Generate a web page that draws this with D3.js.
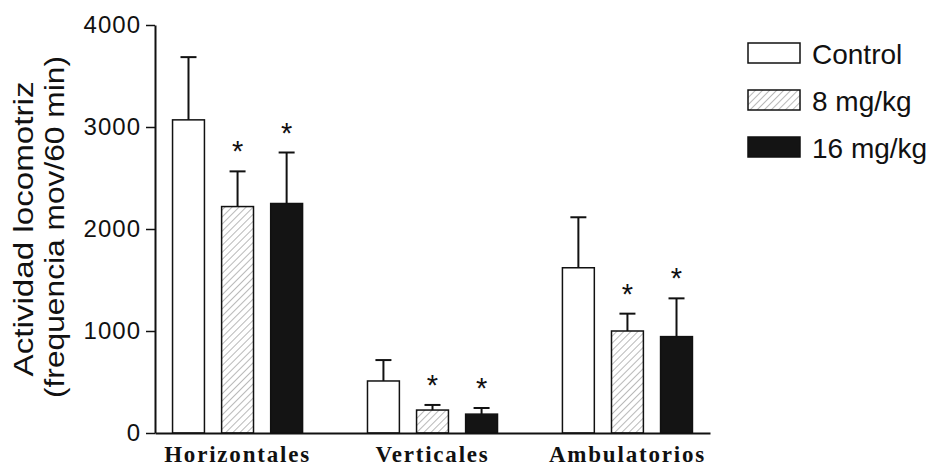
<!DOCTYPE html>
<html>
<head>
<meta charset="utf-8">
<script src="https://cdn.jsdelivr.net/npm/d3@7"></script>
<style>
  body { margin: 0; background: #fff; }
  svg { display: block; }
</style>
</head>
<body>
<div id="chart"></div>
<script>
// ---------------- data ----------------
var groups = ['Horizontales', 'Verticales', 'Ambulatorios'];
var doses = ['Control', '8 mg/kg', '16 mg/kg'];
var controlMean = [3070, 510, 1620];
var controlErr  = [615, 205, 495];
var dose8Mean   = [2220, 225, 1000];
var dose8Err    = [345, 50, 170];
var dose16Mean  = [2250, 185, 945];
var dose16Err   = [500, 60, 375];
var dose8Sig    = [true, true, true];
var dose16Sig   = [true, true, true];
var controlSig  = [false, false, false];
var yTicks = [0, 1000, 2000, 3000, 4000];

var width = 937, height = 466;
var margin = {left: 155, right: 227, top: 25, bottom: 33};

// rows built from the arrays
var rows = [];
groups.forEach(function(g, i) {
    rows.push({group: g, dose: doses[0], mean: controlMean[i], err: controlErr[i], sig: controlSig[i]});
    rows.push({group: g, dose: doses[1], mean: dose8Mean[i], err: dose8Err[i], sig: dose8Sig[i]});
    rows.push({group: g, dose: doses[2], mean: dose16Mean[i], err: dose16Err[i], sig: dose16Sig[i]});
});

var svg = d3.select('#chart').append('svg')
    .attr('width', width).attr('height', height);

// hatch pattern for 8 mg/kg
var defs = svg.append('defs');
var pat = defs.append('pattern')
    .attr('id', 'hatch')
    .attr('patternUnits', 'userSpaceOnUse')
    .attr('width', 5).attr('height', 5)
    .attr('patternTransform', 'rotate(45)');
pat.append('rect').attr('width', 5).attr('height', 5).attr('fill', '#fff');
pat.append('line')
    .attr('x1', 0).attr('y1', 0).attr('x2', 0).attr('y2', 5)
    .attr('stroke', '#8a8a8a').attr('stroke-width', 1.2);

var fills = {'Control': '#fff', '8 mg/kg': 'url(#hatch)', '16 mg/kg': '#141414'};

// ---------------- scales ----------------
var x0 = d3.scaleBand().domain(groups)
    .range([margin.left, width - margin.right])
    .paddingInner(0.333).paddingOuter(0.09);
var x1 = d3.scaleBand().domain(doses)
    .range([0, x0.bandwidth()])
    .paddingInner(0.35).paddingOuter(0);
var y = d3.scaleLinear().domain([0, 4000])
    .range([height - margin.bottom, margin.top]);

// ---------------- bars ----------------
var bars = svg.append('g');
bars.selectAll('rect').data(rows).enter()
    .append('rect')
    .attr('x', d => x0(d.group) + x1(d.dose))
    .attr('y', d => y(d.mean))
    .attr('width', x1.bandwidth())
    .attr('height', d => y(0) - y(d.mean))
    .attr('fill', d => fills[d.dose])
    .attr('stroke', '#111')
    .attr('stroke-width', 1.5);

// error bars (upper only)
var eb = svg.append('g').attr('stroke', '#111').attr('stroke-width', 2);
eb.selectAll('line.v').data(rows).enter()
    .append('line').attr('class', 'v')
    .attr('x1', d => x0(d.group) + x1(d.dose) + x1.bandwidth() / 2)
    .attr('x2', d => x0(d.group) + x1(d.dose) + x1.bandwidth() / 2)
    .attr('y1', d => y(d.mean))
    .attr('y2', d => y(d.mean + d.err));
eb.selectAll('line.cap').data(rows).enter()
    .append('line').attr('class', 'cap')
    .attr('x1', d => x0(d.group) + x1(d.dose) + x1.bandwidth() / 2 - 8)
    .attr('x2', d => x0(d.group) + x1(d.dose) + x1.bandwidth() / 2 + 8)
    .attr('y1', d => y(d.mean + d.err))
    .attr('y2', d => y(d.mean + d.err));

// significance stars
svg.append('g').selectAll('text').data(rows.filter(d => d.sig)).enter()
    .append('text')
    .attr('x', d => x0(d.group) + x1(d.dose) + x1.bandwidth() / 2)
    .attr('y', d => y(d.mean + d.err) - 10)
    .attr('text-anchor', 'middle')
    .style('font-family', 'Arial, "Liberation Sans", sans-serif')
    .style('font-size', '29px')
    .attr('fill', '#111')
    .text('*');

// ---------------- axes ----------------
var yAxis = svg.append('g')
    .attr('transform', `translate(${margin.left},0)`)
    .call(d3.axisLeft(y).tickValues(yTicks).tickSize(9).tickSizeOuter(0).tickPadding(5).tickFormat(d3.format('d')));
yAxis.select('.domain').attr('stroke', '#111').attr('stroke-width', 2);
yAxis.selectAll('.tick line').attr('stroke', '#111').attr('stroke-width', 1.5);
yAxis.selectAll('.tick text')
    .style('font-family', 'Arial, "Liberation Sans", sans-serif')
    .style('font-size', '24px')
    .style('letter-spacing', '1px')
    .attr('fill', '#111');

// x axis: plain line and group labels
var xAxis = svg.append('g')
    .attr('transform', `translate(0,${y(0)})`)
    .call(d3.axisBottom(x0).tickSize(0).tickSizeOuter(0).tickPadding(13));
xAxis.select('.domain').attr('stroke', '#111').attr('stroke-width', 2);
xAxis.selectAll('.tick text')
    .style('font-family', '"Liberation Serif", "Times New Roman", serif')
    .style('font-weight', 'bold')
    .style('font-size', '23px')
    .style('letter-spacing', '1.8px')
    .attr('fill', '#111');

// y title, two lines
var yMid = (y(0) + y(4000)) / 2;
var ytitle = svg.append('g')
    .style('font-family', 'Arial, "Liberation Sans", sans-serif')
    .style('font-size', '27px')
    .attr('fill', '#111');
ytitle.append('text')
    .attr('transform', `translate(33,${yMid}) rotate(-90)`)
    .attr('text-anchor', 'middle')
    .attr('textLength', 295).attr('lengthAdjust', 'spacingAndGlyphs')
    .text('Actividad locomotriz');
ytitle.append('text')
    .attr('transform', `translate(64,${yMid - 2}) rotate(-90)`)
    .attr('text-anchor', 'middle')
    .attr('textLength', 342).attr('lengthAdjust', 'spacingAndGlyphs')
    .text('(frequencia mov/60 min)');

// ---------------- legend ----------------
var legend = svg.append('g').attr('transform', 'translate(748,43)');
var item = legend.selectAll('g').data(doses).enter()
    .append('g')
    .attr('transform', (d, i) => `translate(0,${i * 47})`);
item.append('rect')
    .attr('width', 52).attr('height', 20)
    .attr('fill', d => fills[d])
    .attr('stroke', '#111').attr('stroke-width', 1.5);
item.append('text')
    .attr('x', 64).attr('y', 21)
    .style('font-family', 'Arial, "Liberation Sans", sans-serif')
    .style('font-size', '28px')
    .attr('fill', '#111')
    .text(d => d);
</script>
</body>
</html>
